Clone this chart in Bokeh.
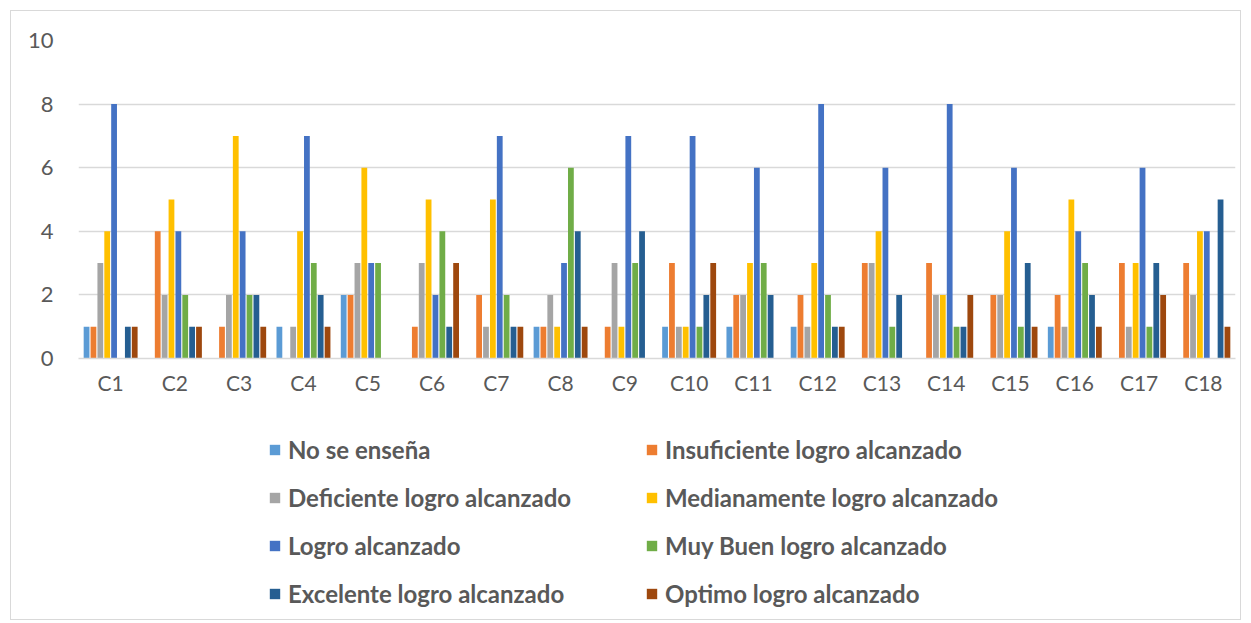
from bokeh.plotting import figure
from bokeh.layouts import column
from bokeh.models import ColumnDataSource, FactorRange, Legend, LegendItem, FixedTicker, Range1d
from bokeh.transform import dodge
from bokeh.embed import file_html
from bokeh.resources import INLINE

categories = ["C%d" % i for i in range(1, 19)]
series_names = [
    "No se enseña", "Insuficiente logro alcanzado",
    "Deficiente logro alcanzado", "Medianamente logro alcanzado",
    "Logro alcanzado", "Muy Buen logro alcanzado",
    "Excelente logro alcanzado", "Optimo logro alcanzado",
]
colors = ["#5B9BD5", "#ED7D31", "#A5A5A5", "#FFC000", "#4472C4", "#70AD47", "#255E91", "#9E480E"]

no_se_ensena   = [1, 0, 0, 1, 2, 0, 0, 1, 0, 1, 1, 1, 0, 0, 0, 1, 0, 0]
insuficiente   = [1, 4, 1, 0, 2, 1, 2, 1, 1, 3, 2, 2, 3, 3, 2, 2, 3, 3]
deficiente     = [3, 2, 2, 1, 3, 3, 1, 2, 3, 1, 2, 1, 3, 2, 2, 1, 1, 2]
medianamente   = [4, 5, 7, 4, 6, 5, 5, 1, 1, 1, 3, 3, 4, 2, 4, 5, 3, 4]
logro          = [8, 4, 4, 7, 3, 2, 7, 3, 7, 7, 6, 8, 6, 8, 6, 4, 6, 4]
muy_buen       = [0, 2, 2, 3, 3, 4, 2, 6, 3, 1, 3, 2, 1, 1, 1, 3, 1, 0]
excelente      = [1, 1, 2, 2, 0, 1, 1, 4, 4, 2, 2, 1, 2, 1, 3, 2, 3, 5]
optimo         = [1, 1, 1, 1, 0, 3, 1, 1, 0, 3, 0, 1, 0, 2, 1, 1, 2, 1]
y_ticks = [0, 2, 4, 6, 8, 10]

series_values = [no_se_ensena, insuficiente, deficiente, medianamente,
                 logro, muy_buen, excelente, optimo]
keys = ["s%d" % i for i in range(8)]

data = {"cat": categories}
for k, v in zip(keys, series_values):
    data[k] = v
source = ColumnDataSource(data)

FONT = "Lato"
TXT = "#595959"
GRID = "#d9d9d9"

p = figure(
    x_range=FactorRange(*categories, range_padding=0),
    y_range=Range1d(0, 10),
    width=1229, height=417,
    output_backend="svg", toolbar_location=None,
    min_border_left=67, min_border_right=5, min_border_top=29, min_border_bottom=70,
)
p.outline_line_color = None
p.xgrid.grid_line_color = None
p.ygrid.grid_line_color = GRID
p.ygrid.grid_line_width = 1.5
p.yaxis.ticker = FixedTicker(ticks=y_ticks)
p.yaxis.axis_line_color = None
p.yaxis.major_tick_line_color = None
p.yaxis.minor_tick_line_color = None
p.yaxis.major_label_text_font = FONT
p.yaxis.major_label_text_font_size = "22px"
p.yaxis.major_label_text_color = TXT
p.yaxis.major_label_standoff = 19
p.xaxis.axis_line_color = GRID
p.xaxis.axis_line_width = 1.5
p.xaxis.major_tick_line_color = None
p.xaxis.minor_tick_line_color = None
p.xaxis.major_label_text_font = FONT
p.xaxis.major_label_text_font_size = "21px"
p.xaxis.major_label_text_color = TXT
p.xaxis.major_label_standoff = 5

slot = 0.107
for i, (k, c) in enumerate(zip(keys, colors)):
    p.vbar(x=dodge("cat", (i - 3.5) * slot, range=p.x_range), top=k, width=0.09,
           source=source, fill_color=c, line_color=None)

# legend panel
pl = figure(width=1229, height=191, x_range=Range1d(0, 1), y_range=Range1d(0, 1),
            output_backend="svg", toolbar_location=None,
            min_border=0, min_border_left=0, min_border_right=0,
            min_border_top=0, min_border_bottom=0)
pl.axis.visible = False
pl.grid.visible = False
pl.outline_line_color = None
items = []
for name, c in zip(series_names, colors):
    r = pl.vbar(x=[0.5], top=[0], bottom=[0], width=0.1, fill_color=c, line_color=None)
    items.append(LegendItem(label=name, renderers=[r]))

legend = Legend(items=items, orientation="horizontal", ncols=2,
                label_text_font=FONT, label_text_font_style="bold",
                label_text_font_size="24px", label_text_color=TXT,
                glyph_width=13, glyph_height=13, label_standoff=7,
                label_width=347, label_height=38, spacing=10,
                padding=0, margin=0, border_line_color=None,
                background_fill_alpha=0, location=(190, 7))
pl.add_layout(legend, "center")

layout = column(p, pl, spacing=0, margin=(10, 0, 0, 10),
                styles={"border": "1px solid #d9d9d9"})

open("out.html", "w").write(file_html(layout, INLINE))
